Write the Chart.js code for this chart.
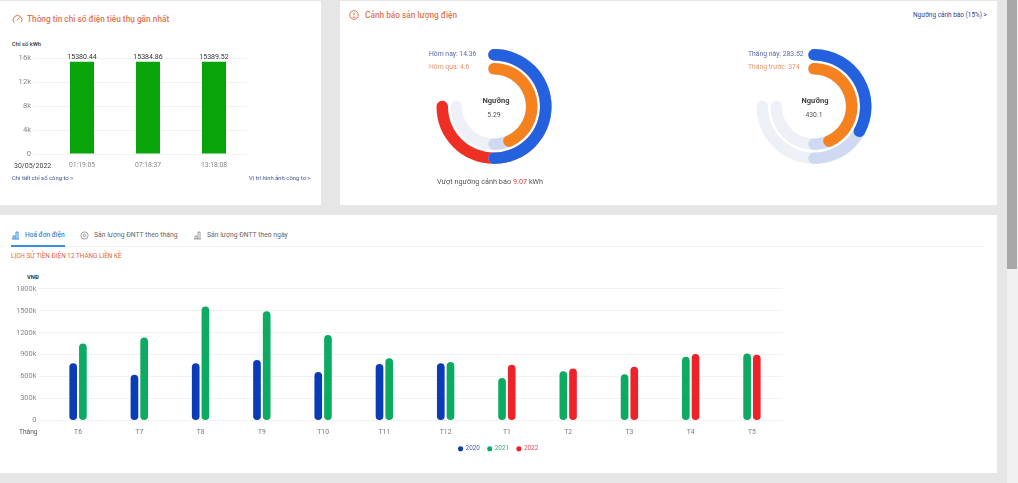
<!DOCTYPE html>
<html lang="vi">
<head>
<meta charset="UTF-8">
<title>Chỉ số điện</title>
<script src="https://cdn.jsdelivr.net/npm/chart.js"></script>
<style>
  html, body { margin: 0; padding: 0; overflow: hidden; }
  body { width: 1018px; height: 483px; background: #e6e6e6; font-family: Roboto, sans-serif; position: relative; }
  .card { position: absolute; background: #fff; }
  .t { position: absolute; white-space: nowrap; line-height: 10px; height: 10px; }
  canvas { position: absolute; }
  svg { position: absolute; }
  .title { color: #dd7656; font-size: 8.3px; font-weight: 500; }
  .link { color: #3f4f8f; font-size: 5.9px; }
  .tab { color: #666; font-size: 6.8px; }
  .center { transform: translateX(-50%); }
</style>
</head>
<body>
  <div class="card" style="left:0;top:1px;width:321px;height:204px"></div>
  <div class="card" style="left:340px;top:1px;width:657px;height:204px"></div>
  <div class="card" style="left:0;top:215px;width:997px;height:258px"></div>
  <div style="position:absolute;left:1007px;top:0;width:11px;height:483px;background:#f1f1f1"></div>
  <div style="position:absolute;left:1007px;top:0;width:10px;height:269px;background:#a8a8a8"></div>

  <svg style="left:12px;top:14px" width="11" height="10" viewBox="0 0 11 10" fill="none" stroke="#dd7656" stroke-width="1"><path d="M2 8.5a4.4 4.4 0 1 1 7 0"/><path d="M5 6.5l2.5-3"/></svg>
  <div class="t title" style="left:27px;top:14px">Thông tin chỉ số điện tiêu thụ gần nhất</div>
  <div class="t" style="left:12px;top:39px;font-size:5.8px;font-weight:500;color:#333">Chỉ số kWh</div>
  <canvas id="meterChart" width="321" height="135" style="left:0;top:40px"></canvas>
  <div class="t" style="left:14px;top:161px;font-size:7px;color:#444">30/05/2022</div>
  <div class="t link" style="left:12px;top:173px">Chi tiết chỉ số công tơ &gt;</div>
  <div class="t link" style="left:249px;top:173px">Vị trí hình ảnh công tơ &gt;</div>

  <svg style="left:349px;top:10px" width="10" height="10" viewBox="0 0 10 10" fill="none" stroke="#dd7656" stroke-width="1"><circle cx="5" cy="5" r="4.3"/><path d="M5 2.5v3M3.5 7.2h3"/></svg>
  <div class="t title" style="left:365px;top:10px">Cảnh báo sản lượng điện</div>
  <div class="t" style="left:913px;top:10px;font-size:6.45px;color:#2e3f8f">Ngưỡng cảnh báo (15%) &gt;</div>

  <canvas id="dayTrack" width="130" height="131" style="left:429px;top:41px"></canvas>
  <canvas id="dayZone" width="130" height="131" style="left:429px;top:41px"></canvas>
  <canvas id="dayValue" width="130" height="131" style="left:429px;top:41px"></canvas>
  <div class="t" id="dayLabelA" style="left:429px;top:49px;font-size:6.8px;color:#5a6aa8"></div>
  <div class="t" id="dayLabelB" style="left:429px;top:62px;font-size:6.8px;color:#e8946a"></div>
  <div class="t center" style="left:496px;top:96px;font-size:7.5px;font-weight:700;color:#444">Ngưỡng</div>
  <div class="t center" id="dayLimit" style="left:494px;top:110px;font-size:6.8px;color:#555"></div>
  <div class="t" style="left:437px;top:177px;font-size:7.3px;color:#555">Vượt ngưỡng cảnh báo <span id="dayOver" style="color:#d8404a"></span> kWh</div>

  <canvas id="monthTrack" width="130" height="131" style="left:749px;top:41px"></canvas>
  <canvas id="monthZone" width="130" height="131" style="left:749px;top:41px"></canvas>
  <canvas id="monthValue" width="130" height="131" style="left:749px;top:41px"></canvas>
  <div class="t" id="monthLabelA" style="left:748px;top:49px;font-size:6.8px;color:#5a6aa8"></div>
  <div class="t" id="monthLabelB" style="left:748px;top:62px;font-size:6.8px;color:#e8946a"></div>
  <div class="t center" style="left:815px;top:96px;font-size:7.5px;font-weight:700;color:#444">Ngưỡng</div>
  <div class="t center" id="monthLimit" style="left:814px;top:110px;font-size:6.8px;color:#555"></div>

  <svg style="left:11px;top:231px" width="9" height="9" viewBox="0 0 9 9" fill="none" stroke="#3a8edb" stroke-width="1"><path d="M1 8h7M2 8V5h2v3M5 8V1h2v7"/></svg>
  <div class="t tab" style="left:25px;top:230px;color:#2f88d6;font-weight:500;font-size:6.6px">Hoá đơn điện</div>
  <svg style="left:80px;top:231px" width="9" height="9" viewBox="0 0 9 9" fill="none" stroke="#888" stroke-width=".8"><circle cx="4.5" cy="4.5" r="3.6"/><circle cx="4.5" cy="4.5" r="1.2"/></svg>
  <div class="t tab" style="left:94px;top:230px">Sản lượng ĐNTT theo tháng</div>
  <svg style="left:193px;top:231px" width="9" height="9" viewBox="0 0 9 9" fill="none" stroke="#888" stroke-width=".8"><path d="M1 8h7M2 8V5h2v3M5 8V1h2v7"/></svg>
  <div class="t tab" style="left:207px;top:230px">Sản lượng ĐNTT theo ngày</div>
  <div style="position:absolute;left:11px;top:246px;width:974px;height:1px;background:#f0f0f0"></div>
  <div style="position:absolute;left:11px;top:245px;width:54px;height:2px;background:#3a8edb"></div>
  <div class="t" style="left:11px;top:251px;font-size:6.4px;color:#e2613d">LỊCH SỬ TIỀN ĐIỆN 12 THÁNG LIỀN KỀ</div>
  <div class="t" style="left:27px;top:272px;font-size:5.8px;font-weight:700;color:#333">VNĐ</div>
  <canvas id="billChart" width="997" height="192" style="left:0;top:270px"></canvas>
  <div class="t" style="left:19px;top:427px;font-size:6.6px;color:#555">Tháng</div>

<script>
  // chỉ số công tơ
  const meterTimes = ['01:19:05', '07:18:37', '13:18:08'];
  const meterValues = [15380.44, 15384.86, 15389.52];

  // cảnh báo sản lượng
  const dayToday = 14.36;
  const dayYesterday = 4.6;
  const dayLimit = 5.29;
  const dayOver = 9.07;
  const monthNow = 283.52;
  const monthLast = 374;
  const monthLimit = 430.1;

  // hoá đơn 12 tháng (nghìn đồng)
  const months = ['T6', 'T7', 'T8', 'T9', 'T10', 'T11', 'T12', 'T1', 'T2', 'T3', 'T4', 'T5'];
  const bill2020 = [781, 625, 781, 827, 662, 772, 781, null, null, null, null, null];
  const bill2021 = [1052, 1135, 1557, 1493, 1167, 850, 799, 583, 675, 634, 873, 914];
  const bill2022 = [null, null, null, null, null, null, null, 763, 712, 735, 910, 900];

  const FONT = 'Roboto, sans-serif';
  const BLUE = '#2461de', ORANGE = '#f5821f', RED = '#ee2f24', PALE = '#eef0f7', LIGHT = '#cfd9f1';

  // nhãn giá trị trên cột
  const barValueLabels = {
    id: 'barValueLabels',
    afterDatasetsDraw(chart) {
      const ctx = chart.ctx;
      ctx.save();
      ctx.font = '7px ' + FONT;
      ctx.fillStyle = '#333';
      ctx.textAlign = 'center';
      chart.getDatasetMeta(0).data.forEach((bar, i) => {
        ctx.fillText(meterValues[i].toFixed(2), bar.x, bar.y - 3);
      });
      ctx.restore();
    }
  };

  new Chart(document.getElementById('meterChart'), {
    type: 'bar',
    data: {
      labels: meterTimes,
      datasets: [{ data: meterValues, backgroundColor: '#09a30a', categoryPercentage: 0.364, barPercentage: 1 }]
    },
    options: {
      responsive: false,
      animation: false,
      events: [],
      layout: { padding: { top: 18, right: 74 } },
      plugins: { legend: { display: false }, tooltip: { enabled: false } },
      scales: {
        x: {
          grid: { display: false, drawTicks: false },
          border: { display: false },
          ticks: { color: '#888', font: { size: 6.8, family: FONT }, padding: 7, maxRotation: 0 },
          afterFit(s) { s.height = 21; }
        },
        y: {
          min: 0, max: 16000,
          grid: { color: '#f2f2f2', tickLength: 16 },
          border: { display: false },
          ticks: { stepSize: 4000, color: '#888', font: { size: 7.6, family: FONT }, padding: 2,
            callback: v => v === 0 ? '0' : (v / 1000) + 'k' },
          afterFit(s) { s.width = 49; }
        }
      }
    },
    plugins: [barValueLabels]
  });

  // vòng cung 270 độ, tối đa = 1.5 lần ngưỡng
  function gaugeArc(value, limit, color, capDeg, weight) {
    const v = Math.min(value, limit * 1.5);
    return {
      data: [v],
      backgroundColor: color,
      borderWidth: 0,
      borderRadius: 5.75,
      rotation: -capDeg,
      circumference: v / (limit * 1.5) * 270 + capDeg * 2,
      weight: weight
    };
  }
  const INNER_CAP = 8.7, OUTER_CAP = 6.37;

  function gaugeLayer(id, innerValue, innerColor, outerValue, outerColor, limit) {
    new Chart(document.getElementById(id), {
      type: 'doughnut',
      data: {
        datasets: [
          gaugeArc(outerValue, limit, outerColor, OUTER_CAP, 11.5),
          { data: [1], backgroundColor: 'transparent', borderWidth: 0, rotation: 0, circumference: 360, weight: 2.5 },
          gaugeArc(innerValue, limit, innerColor, INNER_CAP, 11.5)
        ]
      },
      options: {
        responsive: false,
        animation: false,
        events: [],
        radius: 57.5,
        cutout: '55.65%',
        plugins: { legend: { display: false }, tooltip: { enabled: false } }
      }
    });
  }

  function gauge(prefix, now, last, limit) {
    // lớp nền: đỏ nếu vượt ngưỡng
    gaugeLayer(prefix + 'Track', limit * 1.5, PALE, limit * 1.5, now > limit ? RED : PALE, limit);
    gaugeLayer(prefix + 'Zone', limit, LIGHT, limit, LIGHT, limit);
    gaugeLayer(prefix + 'Value', Math.min(last, limit), ORANGE, Math.min(now, limit), BLUE, limit);
  }
  gauge('day', dayToday, dayYesterday, dayLimit);
  gauge('month', monthNow, monthLast, monthLimit);

  document.getElementById('dayLabelA').textContent = 'Hôm nay: ' + dayToday;
  document.getElementById('dayLabelB').textContent = 'Hôm qua: ' + dayYesterday;
  document.getElementById('dayLimit').textContent = dayLimit;
  document.getElementById('dayOver').textContent = dayOver;
  document.getElementById('monthLabelA').textContent = 'Tháng này: ' + monthNow;
  document.getElementById('monthLabelB').textContent = 'Tháng trước: ' + monthLast;
  document.getElementById('monthLimit').textContent = monthLimit;

  function billSeries(label, data, color) {
    return {
      label, data,
      backgroundColor: color,
      borderRadius: 4,
      borderSkipped: false,
      skipNull: true,
      categoryPercentage: 0.3166,
      barPercentage: 0.79
    };
  }

  const legendColors = ['#4a5fa8', '#3aa878', '#e0505a'];

  new Chart(document.getElementById('billChart'), {
    type: 'bar',
    data: {
      labels: months,
      datasets: [
        billSeries('2020', bill2020, '#0a3cb8'),
        billSeries('2021', bill2021, '#0cab62'),
        billSeries('2022', bill2022, '#ee2229')
      ]
    },
    options: {
      responsive: false,
      animation: false,
      events: [],
      layout: { padding: { top: 18.7 } },
      plugins: {
        tooltip: { enabled: false },
        legend: {
          position: 'bottom',
          labels: {
            usePointStyle: true,
            boxWidth: 3.6,
            boxHeight: 3.6,
            padding: 8,
            font: { size: 6.4, family: FONT },
            generateLabels(chart) {
              return chart.data.datasets.map((d, i) => ({
                text: d.label,
                fillStyle: d.backgroundColor,
                strokeStyle: d.backgroundColor,
                lineWidth: 0,
                pointStyle: 'circle',
                fontColor: legendColors[i],
                datasetIndex: i
              }));
            }
          }
        }
      },
      scales: {
        x: {
          grid: { display: false, drawTicks: false },
          border: { display: false },
          ticks: { color: '#777', font: { size: 6.8, family: FONT }, padding: 8, maxRotation: 0 },
          afterFit(s) { s.height = 17; }
        },
        y: {
          min: 0, max: 1800,
          grid: { color: '#f2f2f2', tickLength: 9 },
          border: { display: false },
          ticks: { stepSize: 300, color: '#888', font: { size: 7.4, family: FONT }, padding: 2,
            callback: v => v === 0 ? '0' : v + 'k' },
          afterFit(s) { s.width = 47.4; }
        },
        // trục ẩn, giữ khoảng trắng bên phải để chú giải nằm giữa thẻ
        spacer: {
          position: 'right',
          grid: { display: false },
          border: { display: false },
          ticks: { display: false },
          afterFit(s) { s.width = 214.4; }
        }
      }
    }
  });
</script>
</body>
</html>
